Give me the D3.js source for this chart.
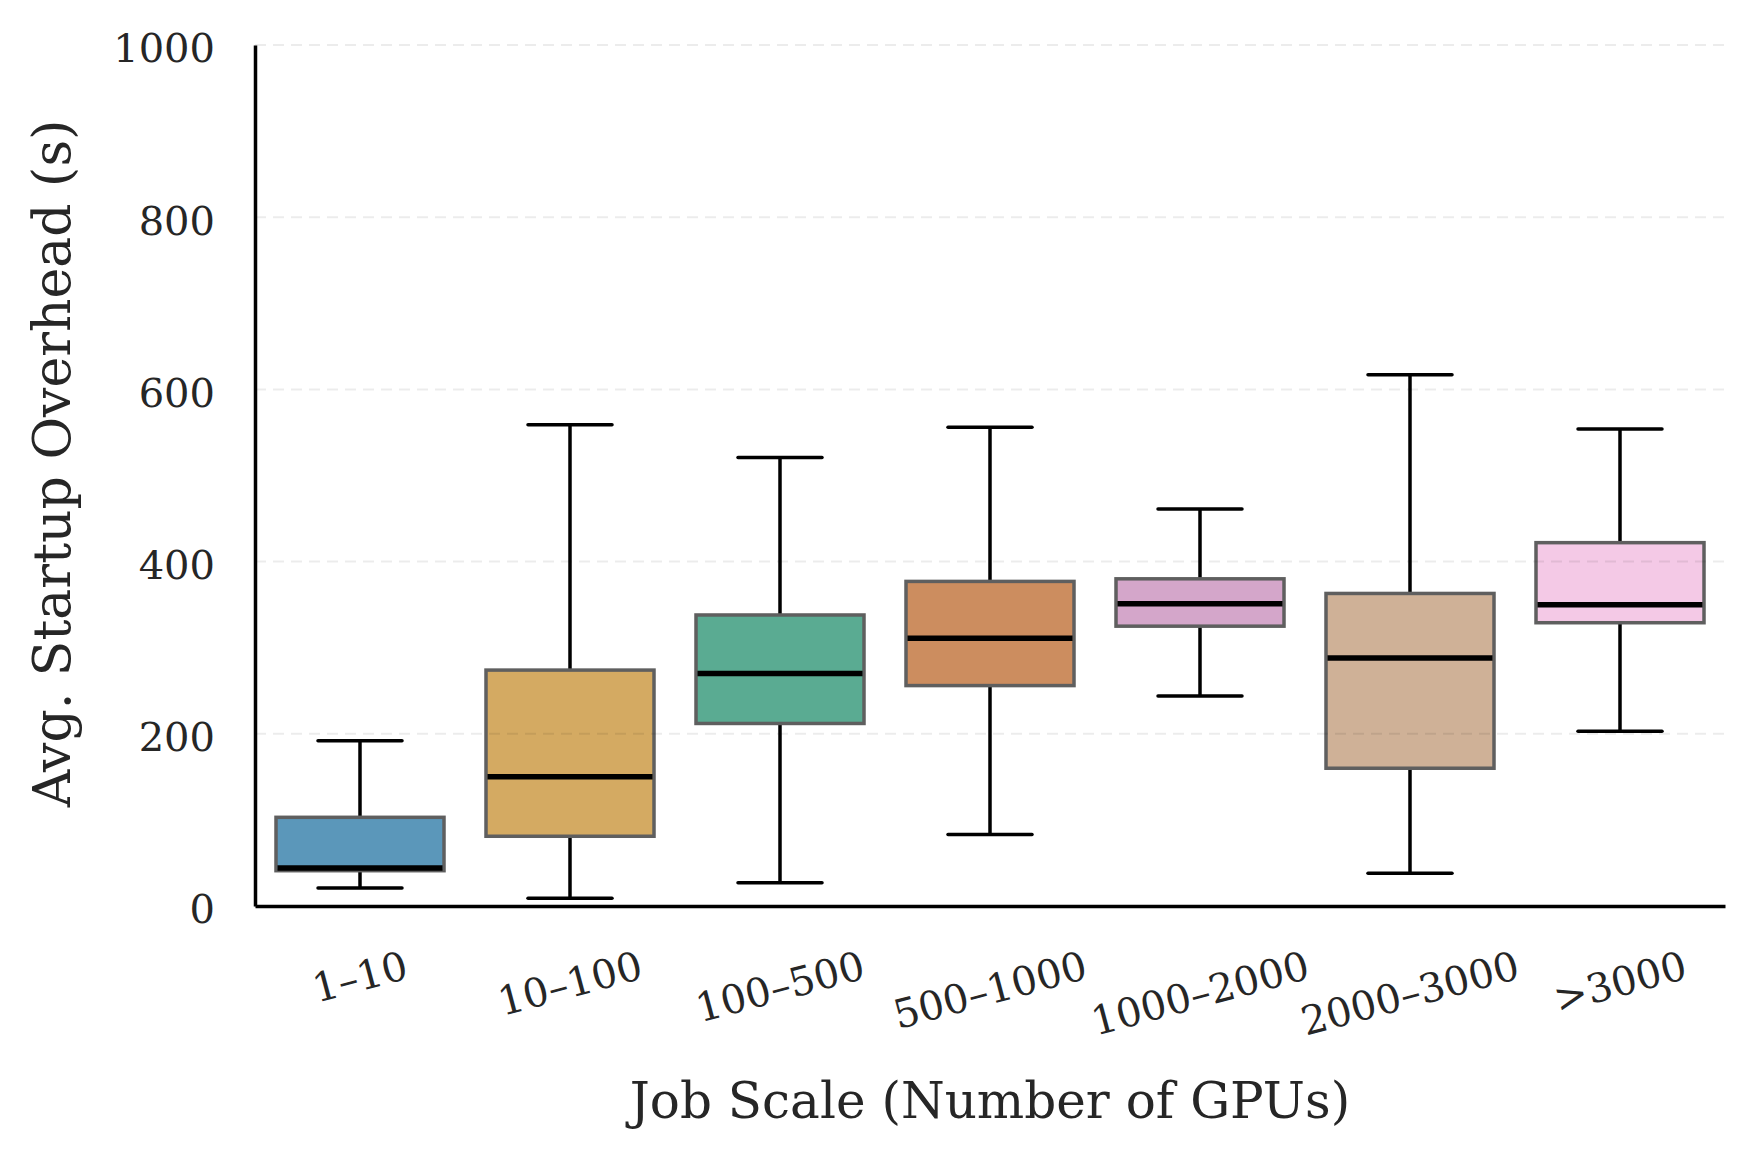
<!DOCTYPE html>
<html>
<head>
<meta charset="utf-8">
<script src="https://cdn.jsdelivr.net/npm/d3@7"></script>
<style>
  body { margin: 0; background: #fff; }
  text { font-family: "DejaVu Serif", serif; fill: #262626; }
</style>
</head>
<body>
<svg id="chart" width="1756" height="1156"></svg>
<script>
// job scale groups and box stats (seconds)
var categories = ["1–10", "10–100", "100–500", "500–1000", "1000–2000", "2000–3000", ">3000"];
var whiskerLow  = [21, 9, 27, 83, 244, 38, 203];
var q1          = [41, 81, 212, 256, 325, 160, 329];
var medians     = [44, 150, 270, 311, 351, 288, 350];
var q3          = [103, 274, 338, 377, 380, 363, 422];
var whiskerHigh = [192, 559, 521, 556, 461, 617, 554];
var colors = ["#5b97ba", "#d4aa62", "#5aab92", "#cc8d5f", "#d4a6ca", "#cfb197", "#f4c9e6"];
var yTicks = [0, 200, 400, 600, 800, 1000];

var margin = {top: 45, right: 31, bottom: 250, left: 255},
    width = 1756 - margin.left - margin.right,
    height = 1156 - margin.top - margin.bottom;

var svg = d3.select("#chart")
  .append("g")
    .attr("transform", "translate(" + margin.left + "," + margin.top + ")");

var xScale = d3.scaleBand()
    .domain(categories)
    .range([0, width])
    .paddingInner(0)
    .paddingOuter(0);

var yScale = d3.scaleLinear()
    .domain([0, 1000])
    .range([height, 0]);

var band = xScale.bandwidth();
var boxW = band * 0.8;
var capW = band * 0.4;

var data = categories.map(function(c, i) {
  return {cat: c, lo: whiskerLow[i], q1: q1[i], med: medians[i], q3: q3[i], hi: whiskerHigh[i], color: colors[i]};
});

// boxes
var groups = svg.selectAll(".box")
  .data(data)
  .enter().append("g")
    .attr("class", "box")
    .attr("transform", function(d) { return "translate(" + (xScale(d.cat) + band / 2) + ",0)"; });

groups.append("line")
    .attr("x1", 0).attr("x2", 0)
    .attr("y1", function(d) { return yScale(d.q3); })
    .attr("y2", function(d) { return yScale(d.hi); })
    .attr("stroke", "#000").attr("stroke-width", 3.5);

groups.append("line")
    .attr("x1", 0).attr("x2", 0)
    .attr("y1", function(d) { return yScale(d.q1); })
    .attr("y2", function(d) { return yScale(d.lo); })
    .attr("stroke", "#000").attr("stroke-width", 3.5);

groups.append("line")
    .attr("x1", -capW / 2).attr("x2", capW / 2)
    .attr("y1", function(d) { return yScale(d.hi); })
    .attr("y2", function(d) { return yScale(d.hi); })
    .attr("stroke", "#000").attr("stroke-width", 3.5).attr("stroke-linecap", "round");

groups.append("line")
    .attr("x1", -capW / 2).attr("x2", capW / 2)
    .attr("y1", function(d) { return yScale(d.lo); })
    .attr("y2", function(d) { return yScale(d.lo); })
    .attr("stroke", "#000").attr("stroke-width", 3.5).attr("stroke-linecap", "round");

groups.append("rect")
    .attr("x", -boxW / 2)
    .attr("width", boxW)
    .attr("y", function(d) { return yScale(d.q3); })
    .attr("height", function(d) { return yScale(d.q1) - yScale(d.q3); })
    .attr("fill", function(d) { return d.color; })
    .attr("stroke", "#5f5f5f")
    .attr("stroke-width", 3.5);

groups.append("line")
    .attr("x1", -boxW / 2 + 1.5).attr("x2", boxW / 2 - 1.5)
    .attr("y1", function(d) { return yScale(d.med); })
    .attr("y2", function(d) { return yScale(d.med); })
    .attr("stroke", "#000").attr("stroke-width", 5.5);

// dashed grid (drawn faintly over the boxes)
svg.append("g")
  .selectAll("line")
  .data(yTicks.slice(1))
  .enter().append("line")
    .attr("x1", 0).attr("x2", width)
    .attr("y1", function(d) { return yScale(d); })
    .attr("y2", function(d) { return yScale(d); })
    .attr("stroke", "rgba(0,0,0,0.075)")
    .attr("stroke-width", 2)
    .attr("stroke-dasharray", "11,7");

// y axis
var yAxis = svg.append("g")
    .call(d3.axisLeft(yScale).tickValues(yTicks).tickSize(0).tickPadding(40).tickFormat(d3.format("d")));
yAxis.select(".domain").attr("stroke", "#000").attr("stroke-width", 3.5);
yAxis.selectAll("text").style("font-size", "40px").style("font-family", "DejaVu Serif")
    .attr("fill", "#262626").attr("dy", "0.42em");

// x axis
var xAxis = svg.append("g")
    .attr("transform", "translate(0," + height + ")")
    .call(d3.axisBottom(xScale).tickSize(0).tickFormat(""));
xAxis.select(".domain").attr("stroke", "#000").attr("stroke-width", 3.5);

// rotated x tick labels, bbox top aligned under the axis
var labelTop = height + 40;
var ang = 15 * Math.PI / 180;
categories.forEach(function(c) {
  var t = svg.append("text")
      .attr("text-anchor", "middle")
      .attr("dominant-baseline", "central")
      .style("font-size", "40px")
      .text(c);
  var w = t.node().getComputedTextLength();
  var h = 40 * 0.95;
  var rotH = w * Math.sin(ang) + h * Math.cos(ang);
  var cx = xScale(c) + band / 2, cy = labelTop + rotH / 2;
  t.attr("x", cx).attr("y", cy)
   .attr("transform", "rotate(-15," + cx + "," + cy + ")");
});

// axis labels
svg.append("text")
    .attr("text-anchor", "middle")
    .attr("x", width / 2)
    .attr("y", height + 212)
    .style("font-size", "50px")
    .text("Job Scale (Number of GPUs)");

svg.append("text")
    .attr("text-anchor", "middle")
    .attr("transform", "rotate(-90)")
    .attr("x", -height / 2 + 12)
    .attr("y", -margin.left + 70)
    .style("font-size", "52px")
    .text("Avg. Startup Overhead (s)");
</script>
</body>
</html>
